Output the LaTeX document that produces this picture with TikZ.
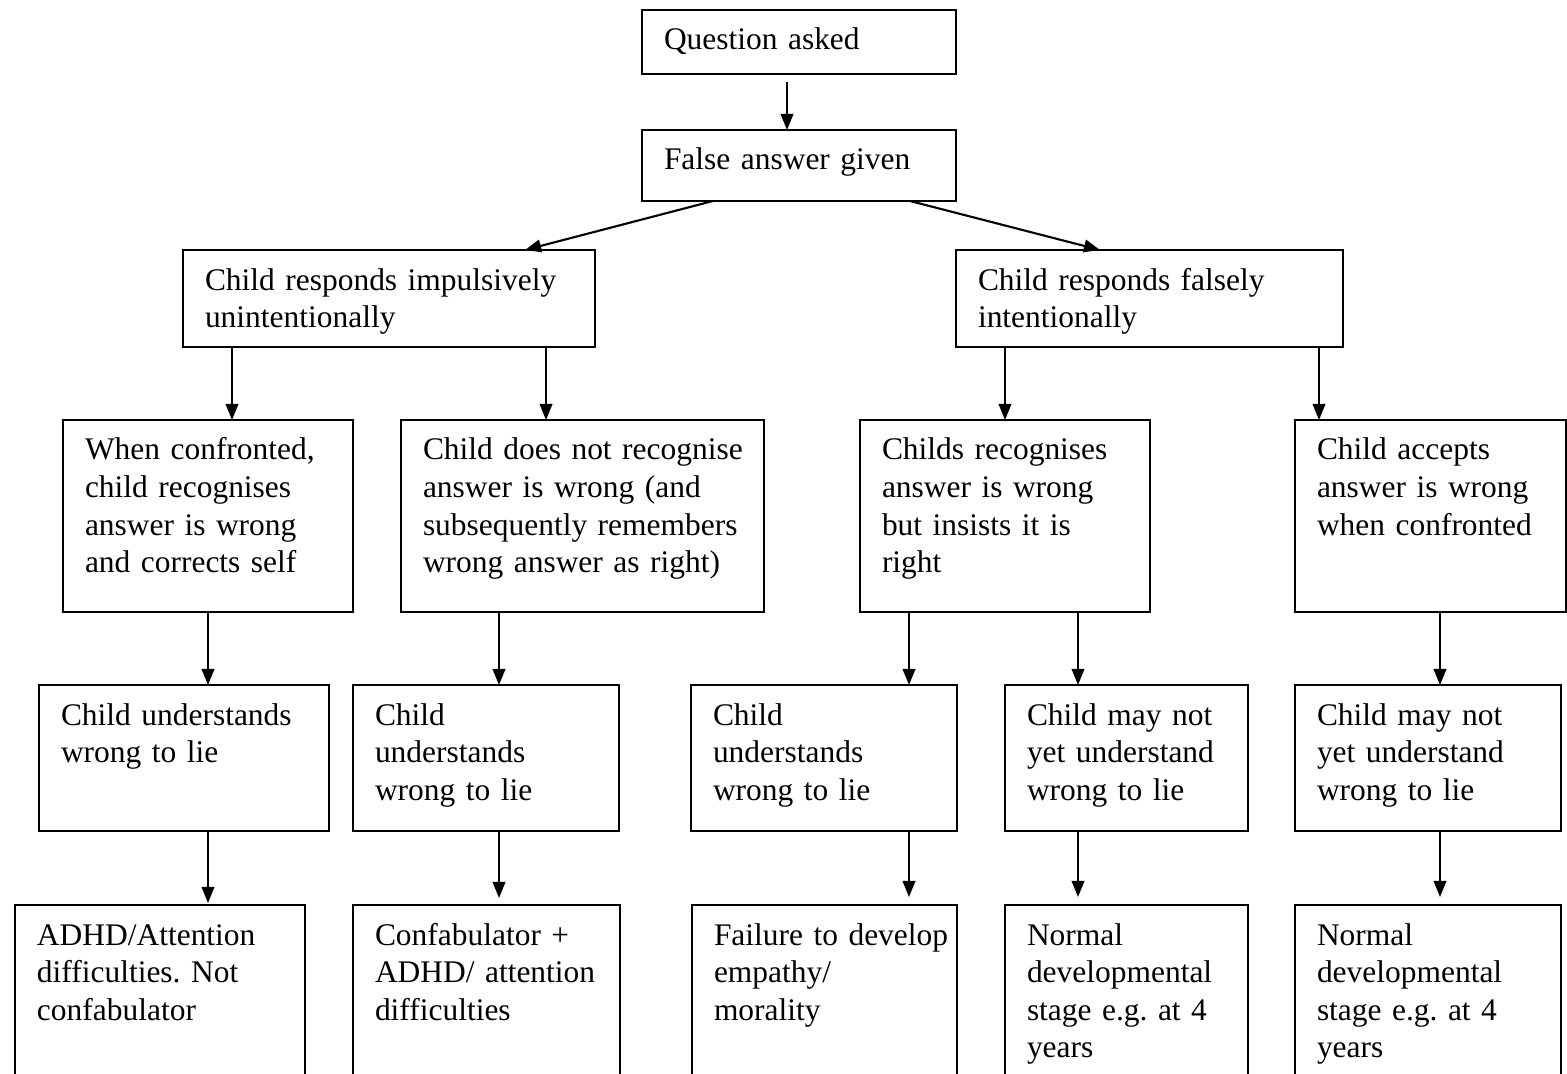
\documentclass[tikz,border=0pt]{standalone}
\usepackage{fontspec}
\setmainfont{Liberation Serif}
\usetikzlibrary{arrows.meta}
\frenchspacing

\tikzset{
	stage/.style={draw, line width=0.6pt, anchor=north west, align=left,
		inner xsep=0.22cm, inner ysep=0pt, outer sep=0pt, text height=0.40cm,
		font=\fontsize{8.95}{10.7}\selectfont,
		execute at begin node={\hyphenpenalty=10000\exhyphenpenalty=10000}},
	arr/.style={line width=0.6pt, -{Triangle[width=3.6pt,length=4.6pt]}}
}

\begin{document}
\begin{tikzpicture}
			%%%%% START %%%%%
			\useasboundingbox (0,0) rectangle (15.67,-10.74);
			
			\node[stage, text width=2.70cm, text depth=0.24cm] (asked) at (6.42,-0.10) {Question asked};
			\node[stage, text width=2.70cm, text depth=0.31cm] (false) at (6.42,-1.30) {False answer given};
			
			\node[stage, text width=3.68cm, text depth=0.57cm] (impulse) at (1.83,-2.50) {Child responds impulsively\\unintentionally};
			\node[stage, text width=3.43cm, text depth=0.57cm] (intent) at (9.56,-2.50) {Child responds falsely\\intentionally};
			
			\node[stage, text width=2.46cm, text depth=1.52cm] (confront) at (0.63,-4.20) {When confronted,\\child recognises\\answer is wrong\\and corrects self};
			\node[stage, text width=3.19cm, text depth=1.52cm] (norecog) at (4.01,-4.20) {Child~does~not~recognise\\answer is wrong (and\\subsequently~remembers\\wrong answer as right)};
			\node[stage, text width=2.46cm, text depth=1.52cm] (insist) at (8.60,-4.20) {Childs recognises\\answer is wrong\\but insists it is\\right};
			\node[stage, text width=2.27cm, text depth=1.52cm] (accept) at (12.95,-4.20) {Child accepts\\answer is wrong\\when~confronted};
			
			\node[stage, text width=2.46cm, text depth=1.06cm] (knowsA) at (0.39,-6.85) {Child~understands\\wrong to lie};
			\node[stage, text width=2.22cm, text depth=1.06cm] (knowsB) at (3.53,-6.85) {Child\\understands\\wrong to lie};
			\node[stage, text width=2.22cm, text depth=1.06cm] (knowsC) at (6.91,-6.85) {Child\\understands\\wrong to lie};
			\node[stage, text width=1.99cm, text depth=1.06cm] (maynotD) at (10.05,-6.85) {Child~may~not\\yet~understand\\wrong to lie};
			\node[stage, text width=2.22cm, text depth=1.06cm] (maynotE) at (12.95,-6.85) {Child~may~not\\yet~understand\\wrong to lie};
			
			\node[stage, text width=2.46cm, text depth=1.60cm] (adhd) at (0.15,-9.05) {ADHD/Attention\\difficulties.~Not\\confabulator};
			\node[stage, text width=2.23cm, text depth=1.60cm] (confab) at (3.53,-9.05) {Confabulator~+\\ADHD/~attention\\difficulties};
			\node[stage, text width=2.21cm, text depth=1.60cm] (empathy) at (6.92,-9.05) {Failure~to~develop\\empathy/\\morality};
			\node[stage, text width=1.99cm, text depth=1.60cm] (normalD) at (10.05,-9.05) {Normal\\developmental\\stage~e.g.~at~4\\years};
			\node[stage, text width=2.22cm, text depth=1.60cm] (normalE) at (12.95,-9.05) {Normal\\developmental\\stage~e.g.~at~4\\years};
			
			% x positions of the vertical arrows
			\foreach \n/\x in {pa/2.32, pb/5.46, pc/10.05, pd/13.19, qa/2.08, qb/4.99, qc/9.09, qd/10.78, qe/14.40}
				\coordinate (\n) at (\x,0);
			\coordinate (top) at (7.87,0);
			
			\draw[arr, shorten <=0.08cm] (asked.south -| top) -- (false.north -| top);
			\draw[arr] ([xshift=-0.86cm]false.south) -- ([xshift=3.42cm]impulse.north west);
			\draw[arr] ([xshift=1.11cm]false.south) -- ([xshift=1.44cm]intent.north west);
			
			\draw[arr] (impulse.south -| pa) -- (confront.north -| pa);
			\draw[arr] (impulse.south -| pb) -- (norecog.north -| pb);
			\draw[arr] (intent.south -| pc) -- (insist.north -| pc);
			\draw[arr] (intent.south -| pd) -- (accept.north -| pd);
			
			\draw[arr] (confront.south -| qa) -- (knowsA.north -| qa);
			\draw[arr] (norecog.south -| qb) -- (knowsB.north -| qb);
			\draw[arr] (insist.south -| qc) -- (knowsC.north -| qc);
			\draw[arr] (insist.south -| qd) -- (maynotD.north -| qd);
			\draw[arr] (accept.south -| qe) -- (maynotE.north -| qe);
			
			\draw[arr, shorten >=0.02cm] (knowsA.south -| qa) -- (adhd.north -| qa);
			\draw[arr, shorten >=0.07cm] (knowsB.south -| qb) -- (confab.north -| qb);
			\draw[arr, shorten >=0.08cm] (knowsC.south -| qc) -- (empathy.north -| qc);
			\draw[arr, shorten >=0.08cm] (maynotD.south -| qd) -- (normalD.north -| qd);
			\draw[arr, shorten >=0.08cm] (maynotE.south -| qe) -- (normalE.north -| qe);
			
			%%%%% END %%%%%
\end{tikzpicture}
\end{document}
